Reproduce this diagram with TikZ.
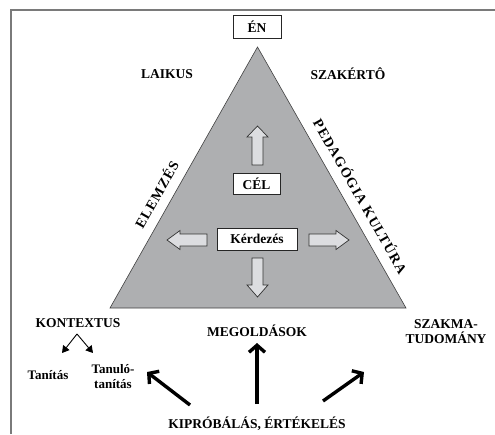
\documentclass[tikz,border=0pt]{standalone}
\usepackage{fontspec}
\setmainfont{Liberation Serif}
\usetikzlibrary{arrows.meta}
\definecolor{trigray}{HTML}{AEAFB1}
\definecolor{arrowfill}{HTML}{DCDDE0}
\definecolor{framegray}{HTML}{7A7A7A}
\tikzset{
  lbl/.style={font=\fontsize{13.5}{15}\selectfont\bfseries, align=center, inner sep=0pt},
  small/.style={font=\fontsize{13}{15.5}\selectfont\bfseries, align=center, inner sep=0pt},
  edgelbl/.style={font=\fontsize{14}{15}\selectfont\bfseries\addfontfeature{LetterSpace=8}, inner sep=0pt},
  whitebox/.style={draw=black!85, line width=0.8pt, fill=white, font=\fontsize{13.5}{15}\selectfont\bfseries},
  blockarrow/.style={draw=black!80, line width=0.7pt, fill=arrowfill},
  bigarrow/.style={line width=3.4pt, -{Straight Barb[length=7pt,width=16pt,line width=3.4pt]}},
  smallarrow/.style={line width=0.9pt, -{Triangle[length=7pt,width=8pt]}}
}
\begin{document}
\begin{tikzpicture}[x=1pt,y=-1pt]
  \useasboundingbox (0,0) rectangle (495,434);
  % open frame: top and left edges only
  \draw[framegray, line width=1.8pt] (11,434) -- (11,10) -- (495,10);

  % central triangle
  \coordinate (apex) at (257.5,47);
  \coordinate (bl) at (110,308);
  \coordinate (br) at (406,308);
  \fill[trigray] (apex) -- (bl) -- (br) -- cycle;
  \draw[black!75, line width=0.6pt] (apex) -- (bl) -- (br) -- cycle;

  % boxes
  \node[whitebox, minimum width=48pt, minimum height=23pt] (en) at (257,26.5) {ÉN};
  \node[whitebox, minimum width=47pt, minimum height=21pt] (cel) at (256.5,183.5) {CÉL};
  \node[whitebox, minimum width=80pt, minimum height=22pt] (kerd) at (257,239) {Kérdezés};

  % block arrows around the question box
  \draw[blockarrow] (257.5,126) -- (268,137) -- (263,137) -- (263,165) -- (252,165) -- (252,137) -- (247,137) -- cycle;
  \draw[blockarrow] (257.5,297) -- (268,285) -- (263,285) -- (263,258) -- (252,258) -- (252,285) -- (247,285) -- cycle;
  \draw[blockarrow] (167,240) -- (180,230.5) -- (180,234) -- (207,234) -- (207,246) -- (180,246) -- (180,249.5) -- cycle;
  \draw[blockarrow] (349,240) -- (336,230.5) -- (336,234) -- (309,234) -- (309,246) -- (336,246) -- (336,249.5) -- cycle;

  % corner labels
  \node[lbl] (laikus) at (167,74) {LAIKUS};
  \node[lbl] (szakerto) at (348,74) {SZAKÉRTÔ};
  \node[edgelbl, rotate=60.4] (elemzes) at (156,194) {ELEMZÉS};
  \node[edgelbl, rotate=-60.4] (pedkult) at (361,196) {PEDAGÓGIA KULTÚRA};

  \node[lbl] (kontextus) at (78,323) {KONTEXTUS};
  \node[lbl] (megold) at (257,331) {MEGOLDÁSOK};
  \node[lbl] (szakma) at (446,332) {SZAKMA-\\TUDOMÁNY};
  \node[small] (tanitas) at (48,375) {Tanítás};
  \node[small] (tanulo) at (113,376.5) {Tanuló-\\tanítás};
  \node[lbl] (kiprob) at (257,424) {KIPRÓBÁLÁS, ÉRTÉKELÉS};

  % context split
  \coordinate (ksplit) at (77,334);
  \coordinate (kleft) at (62,353);
  \coordinate (kright) at (93,353);
  \draw[smallarrow] (ksplit) -- (kleft);
  \draw[smallarrow] (ksplit) -- (kright);

  % trial arrows
  \coordinate (tl0) at (190,405);
  \coordinate (tl1) at (147,372);
  \coordinate (tm0) at (257,404);
  \coordinate (tm1) at (257,343);
  \coordinate (tr0) at (323,401);
  \coordinate (tr1) at (364,372);
  \draw[bigarrow] (tl0) -- (tl1);
  \draw[bigarrow] (tm0) -- (tm1);
  \draw[bigarrow] (tr0) -- (tr1);
\end{tikzpicture}
\end{document}
